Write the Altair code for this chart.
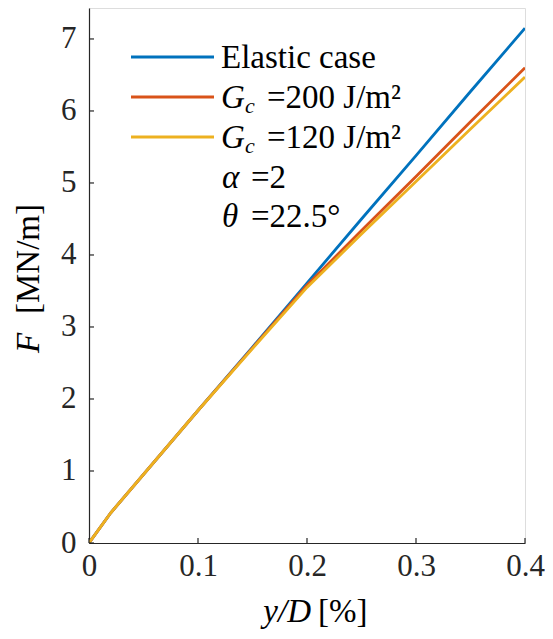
import altair as alt
import pandas as pd

# ---- data ----
x_vals = [0.0, 0.02, 0.1, 0.15, 0.2, 0.25, 0.3, 0.35, 0.4]
elastic = [0.0, 0.42, 1.84, 2.72, 3.61, 4.50, 5.38, 6.27, 7.15]
gc200 = [0.0, 0.42, 1.84, 2.71, 3.58, 4.34, 5.09, 5.85, 6.60]
gc120 = [0.0, 0.42, 1.84, 2.70, 3.55, 4.29, 5.02, 5.75, 6.47]
series_names = ["Elastic case", "Gc=200", "Gc=120"]
series_colors = ["#0072BD", "#D95319", "#EDB120"]
x_ticks = [0, 0.1, 0.2, 0.3, 0.4]
y_ticks = [0, 1, 2, 3, 4, 5, 6, 7]

W, H = 436, 535
FONT = "Liberation Serif, serif"
FS = 31
LFS = 33
AX = "#262626"

rows = []
for name, vals, order in zip(series_names, [elastic, gc200, gc120], [0, 1, 2]):
    for xv, yv in zip(x_vals, vals):
        rows.append({"x": xv, "F": yv, "series": name, "ord": order})
df = pd.DataFrame(rows)

xs = alt.Scale(domain=[0, 0.4], nice=False, zero=False)
ys = alt.Scale(domain=[0, 7.43], nice=False)

lines = alt.Chart(df).mark_line(strokeWidth=2.8, clip=True).encode(
    x=alt.X("x:Q", scale=xs,
            axis=alt.Axis(values=x_ticks, format="~g", title=None, tickSize=0,
                          labelFontSize=FS, labelFont=FONT, labelColor=AX,
                          labelPadding=8, domainColor=AX, domainWidth=1.2,
                          grid=False, labelFlush=False)),
    y=alt.Y("F:Q", scale=ys,
            axis=alt.Axis(values=y_ticks, format="d", title=None, tickSize=0,
                          labelFontSize=FS, labelFont=FONT, labelColor=AX,
                          labelPadding=13, domainColor=AX, domainWidth=1.2,
                          grid=False, labelFlush=False)),
    color=alt.Color("series:N", scale=alt.Scale(domain=series_names, range=series_colors), legend=None),
    detail="series:N",
    order=alt.Order("ord:Q"),
)

# inward ticks
xt = alt.Chart(pd.DataFrame({"v": x_ticks})).mark_rule(color=AX, strokeWidth=1.2).encode(
    x=alt.X("v:Q", scale=xs), y=alt.value(H), y2=alt.value(H - 5))
yt = alt.Chart(pd.DataFrame({"v": y_ticks})).mark_rule(color=AX, strokeWidth=1.2).encode(
    y=alt.Y("v:Q", scale=ys), x=alt.value(0), x2=alt.value(5))

# legend lines
leg_rows = [49, 89, 129]
leg = alt.Chart(pd.DataFrame({"y": leg_rows, "series": series_names})).mark_rule(strokeWidth=2.8).encode(
    x=alt.value(42), x2=alt.value(125), y=alt.Y("y:Q", scale=None),
    color=alt.Color("series:N", scale=alt.Scale(domain=series_names, range=series_colors), legend=None))

roman = pd.DataFrame([
    {"t": "Elastic case", "px": 132, "py": 50},
    {"t": "=200 J/m²", "px": 178, "py": 90},
    {"t": "=120 J/m²", "px": 178, "py": 130},
    {"t": "=2", "px": 162, "py": 170},
    {"t": "=22.5°", "px": 162, "py": 209},
    {"t": "[%]", "px": 229, "py": 604},
])
italic = pd.DataFrame([
    {"t": "G", "px": 132, "py": 90},
    {"t": "G", "px": 132, "py": 130},
    {"t": "α", "px": 133, "py": 170},
    {"t": "θ", "px": 133, "py": 209},
])
sub = pd.DataFrame([
    {"t": "c", "px": 156, "py": 98},
    {"t": "c", "px": 156, "py": 138},
])

t_roman = alt.Chart(roman).mark_text(font=FONT, fontSize=LFS, align="left", baseline="middle", color="#000").encode(
    x=alt.X("px:Q", scale=None), y=alt.Y("py:Q", scale=None), text="t:N")
t_ital = alt.Chart(italic).mark_text(font=FONT, fontSize=LFS, fontStyle="italic", align="left", baseline="middle", color="#000").encode(
    x=alt.X("px:Q", scale=None), y=alt.Y("py:Q", scale=None), text="t:N")
t_sub = alt.Chart(sub).mark_text(font=FONT, fontSize=22, fontStyle="italic", align="left", baseline="middle", color="#000").encode(
    x=alt.X("px:Q", scale=None), y=alt.Y("py:Q", scale=None), text="t:N")

# axis titles
xt_it = alt.Chart(pd.DataFrame({"t": ["y/D"], "px": [222], "py": [604]})).mark_text(
    font=FONT, fontSize=LFS, fontStyle="italic", align="right", baseline="middle", angle=0, color="#000").encode(
    x=alt.X("px:Q", scale=None), y=alt.Y("py:Q", scale=None), text="t:N")
yt_it = alt.Chart(pd.DataFrame({"t": ["F"], "px": [-60], "py": [335]})).mark_text(
    font=FONT, fontSize=LFS, fontStyle="italic", align="center", baseline="middle", angle=270, color="#000").encode(
    x=alt.X("px:Q", scale=None), y=alt.Y("py:Q", scale=None), text="t:N")
yt_rm = alt.Chart(pd.DataFrame({"t": ["[MN/m]"], "px": [-60], "py": [306]})).mark_text(
    font=FONT, fontSize=LFS, align="left", baseline="middle", angle=270, color="#000").encode(
    x=alt.X("px:Q", scale=None), y=alt.Y("py:Q", scale=None), text="t:N")

chart = alt.layer(lines, xt, yt, leg, t_roman, t_ital, t_sub, xt_it, yt_it, yt_rm).properties(
    width=W, height=H,
    autosize=alt.AutoSizeParams(type="none"),
    padding={"left": 81, "top": 0, "right": 20, "bottom": 88},
).configure_view(stroke=None).configure(background="white")

chart.save("out.html", embed_options={"renderer": "svg", "actions": False})
